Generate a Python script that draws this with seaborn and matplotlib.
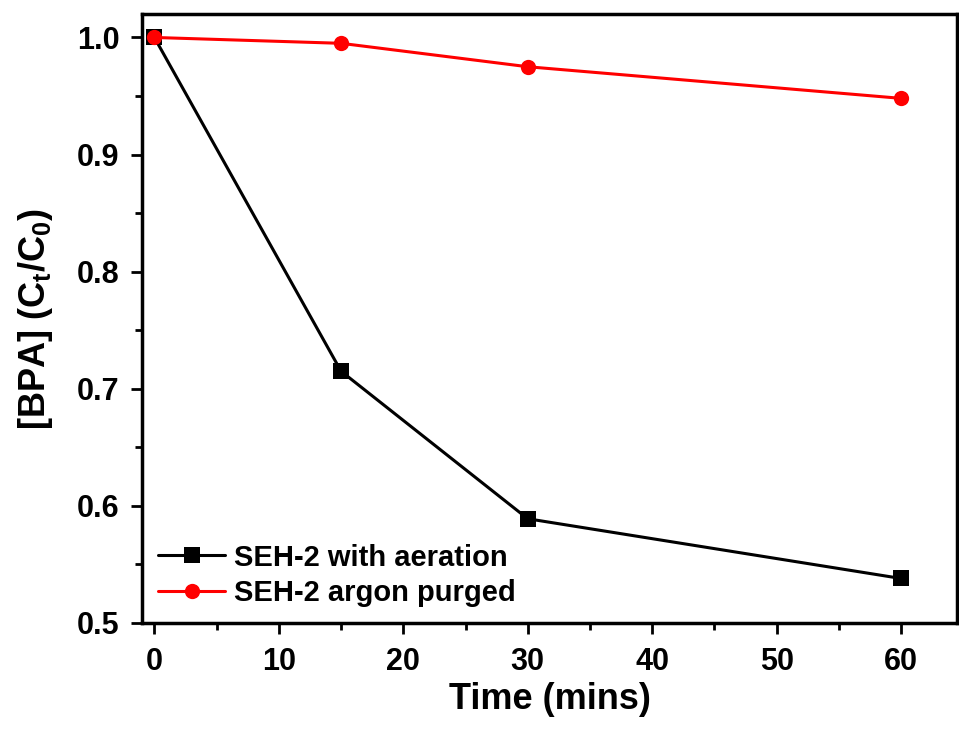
import pandas as pd
import matplotlib
matplotlib.use('Agg')
import matplotlib.pyplot as plt
from matplotlib.ticker import MultipleLocator
import seaborn as sns

# data
time_min = [0, 15, 30, 60]
aeration = [1.0, 0.715, 0.589, 0.538]
argon = [1.0, 0.995, 0.975, 0.948]
labels = ['SEH-2 with aeration', 'SEH-2 argon purged']

df = pd.DataFrame({
    'time': time_min * 2,
    'ratio': aeration + argon,
    'series': [labels[0]] * len(time_min) + [labels[1]] * len(time_min),
})

sns.set_style('ticks')
plt.rcParams['font.family'] = ['Liberation Sans', 'DejaVu Sans']
plt.rcParams['font.weight'] = 'bold'
plt.rcParams['text.color'] = 'black'
plt.rcParams['axes.labelcolor'] = 'black'
plt.rcParams['xtick.color'] = 'black'
plt.rcParams['ytick.color'] = 'black'
plt.rcParams['mathtext.fontset'] = 'custom'
plt.rcParams['mathtext.bf'] = 'Liberation Sans:bold'
plt.rcParams['mathtext.rm'] = 'Liberation Sans:bold'

fig = plt.figure(figsize=(9.59, 7.39), dpi=100)
ax = fig.add_axes([0.148, 0.157, 0.850, 0.824])

sns.lineplot(data=df, x='time', y='ratio', hue='series', style='series',
             palette=['black', 'red'], markers=['s', 'o'], dashes=False,
             markersize=11, markeredgewidth=0, linewidth=2.2, ax=ax)

ax.set_xlim(-1, 64.5)
ax.set_ylim(0.5, 1.02)
ax.xaxis.set_major_locator(MultipleLocator(10))
ax.xaxis.set_minor_locator(MultipleLocator(5))
ax.yaxis.set_major_locator(MultipleLocator(0.1))
ax.yaxis.set_minor_locator(MultipleLocator(0.05))
ax.tick_params(which='major', direction='out', length=8, width=2, labelsize=22)
ax.tick_params(which='minor', direction='out', length=5, width=2)
ax.tick_params(axis='x', which='major', pad=9)
ax.tick_params(axis='y', which='major', pad=8)
for lab in ax.get_xticklabels() + ax.get_yticklabels():
    lab.set_fontweight('bold')
for sp in ax.spines.values():
    sp.set_linewidth(2.5)
    sp.set_color('black')

ax.set_xlabel('Time (mins)', fontsize=26, fontweight='bold', labelpad=4)
ax.set_ylabel(r'[BPA] (C$_\mathbf{t}$/C$_\mathbf{0}$)', fontsize=26,
              fontweight='bold', labelpad=16)

leg = ax.legend(loc='lower left', frameon=False, handlelength=2.3,
                handletextpad=0.3, labelspacing=0.25, borderaxespad=0.15,
                prop={'weight': 'bold', 'size': 21})

fig.savefig('out.png', dpi=100)
